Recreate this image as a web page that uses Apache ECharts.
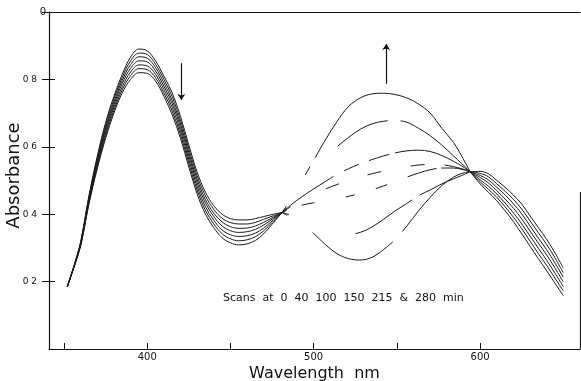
<!DOCTYPE html>
<html><head><meta charset="utf-8">
<script src="https://cdn.jsdelivr.net/npm/echarts@6/dist/echarts.min.js"></script>
<style>html,body{margin:0;padding:0;background:#fff}#c{width:581px;height:381px}</style>
</head><body><div id="c"></div>
<script>
// Wavelength grid (nm)
const wavelengths = [352,356,360,365,370,375,380,385,390,395,400,405,410,415,420,425,430,435,440,445,450,455,460,465,470,475,481,
  487,493,500,507,514,521,528,535,542,549,556,563,570,577,584,589,594,
  600,605,610,615,620,625,630,635,640,645,650];

// Absorbance of each scan (earliest first)
const scan1 = [.185,.247,.318,.455,.572,.672,.750,.815,.866,.890,.885,.855,.810,.760,.690,.605,.525,.465,.425,.400,.387,.383,.383,.387,.393,.399,.405,
  .395,.375,.343,.310,.283,.268,.264,.272,.295,.325,.365,.410,.450,.485,.510,.521,.526,
  .527,.520,.500,.480,.457,.430,.395,.360,.325,.285,.240];
const scan2 = [.185,.246,.316,.451,.566,.664,.742,.806,.855,.878,.874,.845,.800,.749,.679,.594,.514,.454,.414,.388,.375,.371,.371,.376,.385,.394,.405,
  .390,.375,.360,.348,.341,.340,.346,.362,.385,.410,.432,.455,.472,.490,.505,.515,.526,
  .521,.511,.490,.468,.444,.415,.380,.345,.310,.270,.226];
const scan3 = [.185,.245,.314,.447,.560,.656,.733,.797,.844,.867,.863,.835,.790,.738,.668,.583,.503,.443,.403,.377,.363,.358,.359,.365,.376,.389,.405,
  .418,.427,.434,.440,.446,.453,.462,.472,.484,.496,.510,.522,.532,.537,.537,.533,.526,
  .515,.502,.480,.457,.431,.401,.365,.329,.294,.255,.213];
const scan4 = [.185,.245,.312,.443,.554,.649,.725,.788,.833,.855,.852,.825,.780,.728,.658,.573,.493,.433,.393,.365,.351,.346,.348,.355,.368,.385,.405,
  .425,.442,.460,.475,.488,.500,.511,.520,.528,.535,.541,.546,.548,.547,.541,.535,.526,
  .509,.493,.470,.445,.418,.386,.350,.314,.279,.240,.199];
const scan5 = [.185,.244,.309,.438,.547,.641,.717,.778,.822,.843,.840,.815,.770,.717,.647,.562,.482,.422,.382,.353,.339,.334,.336,.344,.359,.380,.405,
  .430,.452,.475,.497,.518,.535,.550,.562,.573,.582,.588,.590,.586,.574,.557,.543,.526,
  .502,.483,.460,.433,.404,.371,.335,.299,.263,.225,.185];
const scan6 = [.185,.243,.307,.434,.541,.633,.708,.769,.811,.832,.829,.805,.760,.706,.636,.551,.471,.411,.371,.342,.327,.321,.324,.333,.351,.375,.405,
  .445,.490,.530,.568,.600,.628,.652,.668,.676,.678,.673,.655,.633,.605,.573,.550,.526,
  .496,.474,.450,.422,.391,.357,.320,.283,.248,.210,.172];
const scan7 = [.185,.242,.305,.430,.535,.625,.700,.760,.800,.820,.818,.795,.750,.695,.625,.540,.460,.400,.360,.330,.315,.309,.312,.322,.342,.370,.405,
  .450,.500,.560,.620,.675,.720,.745,.757,.759,.755,.745,.727,.700,.655,.613,.572,.526,
  .490,.465,.440,.410,.378,.342,.305,.268,.232,.195,.158];

// Axis ticks and labels
const xTickValues = [350,400,450,500,550,600];
const xLabelValues = [400,500,600];
const yTickValues = [0.2,0.4,0.6,0.8,1.0];
const yLabelValues = [0.2,0.4,0.6,0.8];
const yTickLabels = ['0 2','0 4','0 6','0 8'];
const yTopLabel = '0';
const noteText = 'Scans  at  0  40  100  150  215  &  280  min';

const curves = [scan1,scan2,scan3,scan4,scan5,scan6,scan7];
// pen-plotter gaps in the 481-594 nm region (styles)
const midDash = [
  [7,30,95,14,2000,0],
  [6,72,66,9,2000,0],
  [5,16,13,32,9,22,12,22,30,5,2000,0],
  [10,40,14,30,14,30,14,20,2000,0],
  [63,12,16,11,21,6,2000,0],
  [6,81,57,13,2000,0],
  [8,36,10,10,2000,0]
];
const ink = '#1a1a1a';
const i1 = wavelengths.indexOf(481), i2 = wavelengths.indexOf(594);
function pts(vals,a,b){const o=[];for(let i=a;i<=b;i++)o.push([wavelengths[i],vals[i]]);return o;}

const series = [];
curves.forEach((vals,k)=>{
  const base = {type:'line',smooth:0.35,symbol:'none',silent:true,animation:false,emphasis:{disabled:true}};
  series.push(Object.assign({},base,{name:'scan'+(k+1)+'a',data:pts(vals,0,i1),lineStyle:{color:ink,width:1}}));
  series.push(Object.assign({},base,{name:'scan'+(k+1)+'b',data:pts(vals,i1,i2),lineStyle:{color:ink,width:1,type:midDash[k]}}));
  series.push(Object.assign({},base,{name:'scan'+(k+1)+'c',data:pts(vals,i2,wavelengths.length-1),lineStyle:{color:ink,width:1}}));
});
series[0].markLine = {
  silent:true, animation:false, symbol:['none','arrow'], symbolSize:6,
  label:{show:false}, emphasis:{disabled:true},
  lineStyle:{color:'#111',width:1.2,type:'solid'},
  data:[
    [{coord:[420.5,0.848]},{coord:[420.5,0.739]}],
    [{coord:[543.6,0.787]},{coord:[543.6,0.905]}],
    [{coord:[659.9,0],symbol:'none'},{coord:[659.9,0.466],symbol:'none'}]
  ]
};

const chart = echarts.init(document.getElementById('c'),null,{renderer:'canvas'});
const axisLineStyle = {color:'#111',width:1.2};
chart.setOption({
  animation:false,
  backgroundColor:'#fff',
  grid:{left:49,right:1,top:12,bottom:32,containLabel:false,outerBoundsMode:'none'},
  xAxis:[
    {type:'value',min:341,max:660,position:'bottom',
     axisLine:{show:true,onZero:false,lineStyle:axisLineStyle},
     axisTick:{show:true,inside:true,length:6,customValues:xTickValues,lineStyle:{color:'#111',width:1}},
     axisLabel:{customValues:xLabelValues,margin:3,color:'#111',fontFamily:'DejaVu Sans',fontSize:10},
     splitLine:{show:false},
     name:'Wavelength  nm',nameLocation:'middle',nameGap:17,nameMoveOverlap:false,
     nameTextStyle:{fontFamily:'DejaVu Sans',fontSize:16,color:'#111'}},
    {type:'value',min:341,max:660,position:'top',
     axisLine:{show:true,onZero:false,lineStyle:axisLineStyle},
     axisTick:{show:false},axisLabel:{show:false},splitLine:{show:false}}
  ],
  yAxis:[
    {type:'value',min:0,max:1,position:'left',
     axisLine:{show:true,onZero:false,lineStyle:axisLineStyle},
     axisTick:{show:true,length:7,customValues:yTickValues,lineStyle:{color:'#111',width:1}},
     axisLabel:{customValues:yLabelValues,margin:12,color:'#111',fontFamily:'DejaVu Sans',fontSize:9,
       formatter:v=>{const i=yLabelValues.findIndex(t=>Math.abs(t-v)<1e-6);return i>=0?yTickLabels[i]:'';}},
     splitLine:{show:false},
     name:'Absorbance',nameLocation:'middle',nameGap:26,nameRotate:90,nameMoveOverlap:false,
     nameTextStyle:{fontFamily:'DejaVu Sans',fontSize:18,color:'#111',padding:[0,0,0,10]}},
    {type:'value',min:0,max:1,position:'left',
     axisLine:{show:false},
     axisTick:{show:true,inside:true,length:6,customValues:yLabelValues,lineStyle:{color:'#111',width:1}},
     axisLabel:{customValues:[1],margin:3,color:'#111',fontFamily:'DejaVu Sans',fontSize:10,formatter:()=>yTopLabel},
     splitLine:{show:false}}
  ],
  graphic:[{type:'text',left:223,top:293,silent:true,
    style:{text:noteText,font:'11px "DejaVu Sans"',fill:'#111'}}],
  series:series
});
</script></body></html>
